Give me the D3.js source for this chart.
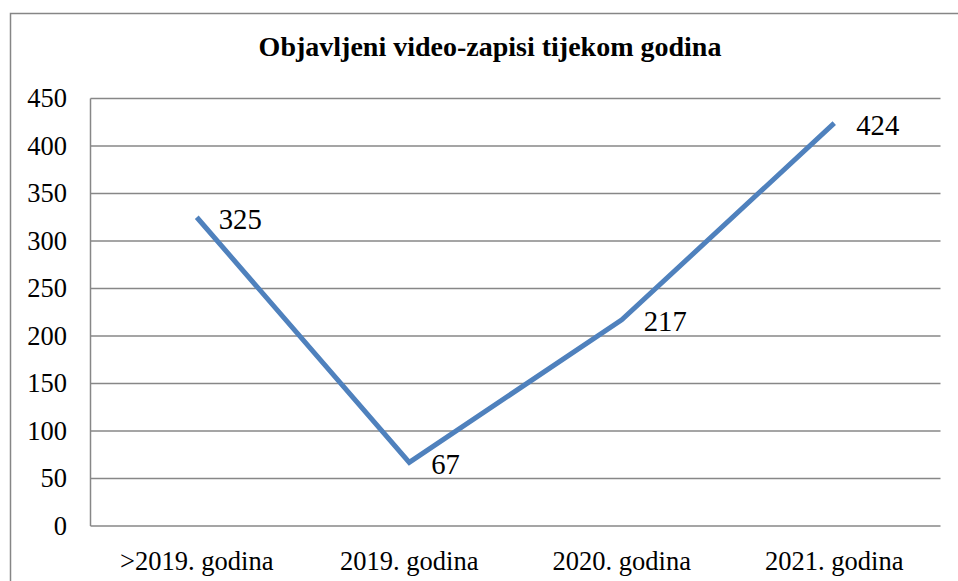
<!DOCTYPE html>
<html>
<head>
<meta charset="utf-8">
<script src="https://cdn.jsdelivr.net/npm/d3@7"></script>
<style>
  body { margin: 0; background: #fff; }
  #wrap { position: relative; width: 958px; height: 581px; overflow: hidden; }
  #wrap svg { position: absolute; left: 0; top: 0; display: block; }
  .lbl {
    position: absolute;
    line-height: 1;
    white-space: nowrap;
    color: #000;
  }
</style>
</head>
<body>
<div id="wrap">
<svg id="chart" width="958" height="581"></svg>
</div>
<script>
// data
const categories = [">2019. godina", "2019. godina", "2020. godina", "2021. godina"]
const values = [325, 67, 217, 424]
const yTicks = [0, 50, 100, 150, 200, 250, 300, 350, 400, 450]
const title = "Objavljeni video-zapisi tijekom godina"

const wrap = d3.select("#wrap")
const svg = d3.select("#chart")

// text goes in html divs so the serif face is used
// baseline -> top of a line-height:1 box is 0.8375em for Liberation Serif
function addText(str, x, baseline, size, anchor, weight) {
    const shift = anchor === "middle" ? "-50%" : anchor === "end" ? "-100%" : "0"
    wrap.append("div")
        .attr("class", "lbl")
        .style("font-family", "'Liberation Serif'")
        .style("left", x + "px")
        .style("top", (baseline - 0.8375 * size) + "px")
        .style("font-size", size + "px")
        .style("font-weight", weight || "normal")
        .style("transform", "translateX(" + shift + ")")
        .text(str)
}

// outer frame
svg.append("rect")
    .attr("x", 10.5)
    .attr("y", 13.5)
    .attr("width", 960)
    .attr("height", 600)
    .attr("fill", "none")
    .attr("stroke", "#868686")
    .attr("stroke-width", 1.5)

const plotLeft = 90.5, plotRight = 940.5, plotTop = 98.5, plotBottom = 526

const x = d3.scaleBand()
    .domain(categories)
    .range([plotLeft, plotRight])

const y = d3.scaleLinear()
    .domain([0, 450])
    .range([plotBottom, plotTop])

// gridlines
svg.append("g")
    .selectAll("line")
    .data(yTicks)
    .join("line")
    .attr("x1", plotLeft)
    .attr("x2", plotRight)
    .attr("y1", d => y(d))
    .attr("y2", d => y(d))
    .attr("stroke", "#878787")
    .attr("stroke-width", 1.5)

// y axis line
svg.append("line")
    .attr("x1", plotLeft)
    .attr("x2", plotLeft)
    .attr("y1", plotTop)
    .attr("y2", plotBottom)
    .attr("stroke", "#878787")
    .attr("stroke-width", 1.5)

// y tick labels
yTicks.forEach(d => addText(d, 67, y(d) + 9, 26.5, "end"))

// x labels
categories.forEach(c => addText(c, x(c) + x.bandwidth() / 2, 570, 26.5, "middle"))

// title
addText(title, 490, 56, 28, "middle", "bold")

const pts = categories.map((c, i) => ({c: c, v: values[i]}))

const line = d3.line()
    .x(d => x(d.c) + x.bandwidth() / 2)
    .y(d => y(d.v))

svg.append("path")
    .datum(pts)
    .attr("d", line)
    .attr("fill", "none")
    .attr("stroke", "#4F81BD")
    .attr("stroke-width", 5)
    .attr("stroke-linejoin", "miter")

// data labels
pts.forEach(d => addText(d.v, x(d.c) + x.bandwidth() / 2 + 22, y(d.v) + 11.5, 28.7, "start"))
</script>
</body>
</html>
